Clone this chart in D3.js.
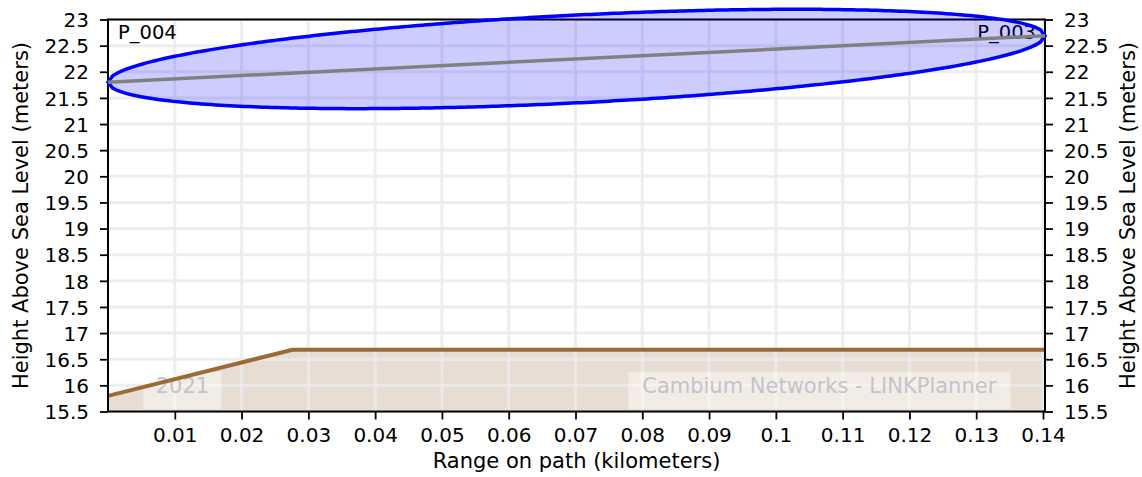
<!DOCTYPE html>
<html><head><meta charset="utf-8">
<script src="https://cdn.jsdelivr.net/npm/d3@7"></script>
<style>
html,body{margin:0;padding:0;background:#fff;}
svg{display:block;font-family:"DejaVu Sans",sans-serif;}
</style></head>
<body><svg id="c" width="1142" height="477"></svg>
<script>
// ---- data ----
const xTicks = [0.01,0.02,0.03,0.04,0.05,0.06,0.07,0.08,0.09,0.1,0.11,0.12,0.13,0.14];
const xTickLabels = ["0.01","0.02","0.03","0.04","0.05","0.06","0.07","0.08","0.09","0.1","0.11","0.12","0.13","0.14"];
const yTicks = [15.5,16,16.5,17,17.5,18,18.5,19,19.5,20,20.5,21,21.5,22,22.5,23];
const yTickLabels = ["15.5","16","16.5","17","17.5","18","18.5","19","19.5","20","20.5","21","21.5","22","22.5","23"];
const terrainRange = [0, 0.0276, 0.1403];
const terrainHeight = [15.8, 16.68, 16.68];
const pathRange = [0, 0.1403];
const pathHeight = [21.8, 22.69];
const fresnelMaxRadius = 0.84; // meters, at mid path
const siteNames = ["P_004", "P_003"];
const watermarks = ["2021", "Cambium Networks - LINKPlanner"];

// ---- layout ----
const svg = d3.select("#c");
const m = {l:108, r:1045, t:19.5, b:411.5};
const x = d3.scaleLinear().domain([0, 0.1403]).range([m.l, m.r]);
const y = d3.scaleLinear().domain([15.5, 23]).range([m.b, m.t]);

// terrain fill
const terr = terrainRange.map((d,i)=>({x:d, y:terrainHeight[i]}));
svg.append("path")
  .attr("d", d3.area().x(d=>x(d.x)).y0(y(15.5)).y1(d=>y(d.y))(terr))
  .attr("fill", "#e8ddd3");

// grid
const g = svg.append("g");
g.selectAll("line.vx").data(xTicks).join("line")
  .attr("x1", d=>x(d)).attr("x2", d=>x(d)).attr("y1", m.t).attr("y2", m.b)
  .attr("stroke", "#ebebeb").attr("stroke-opacity", 0.85).attr("stroke-width", 3);
g.selectAll("line.hy").data(yTicks).join("line")
  .attr("y1", d=>y(d)).attr("y2", d=>y(d)).attr("x1", m.l).attr("x2", m.r)
  .attr("stroke", "#ebebeb").attr("stroke-opacity", 0.85).attr("stroke-width", 3);

// watermarks
const wm = [
  {t: watermarks[0], x0: 0.0053, x1: 0.0170},
  {t: watermarks[1], x0: 0.0779, x1: 0.1351}
];
wm.forEach(w=>{
  svg.append("rect").attr("x", x(w.x0)).attr("y", 372)
    .attr("width", x(w.x1)-x(w.x0)).attr("height", 37)
    .attr("fill", "#ffffff").attr("fill-opacity", 0.45);
  svg.append("text").attr("x", (x(w.x0)+x(w.x1))/2).attr("y", 393)
    .attr("text-anchor","middle")
    .attr("font-size", 21).attr("fill", "#c4c4c4").text(w.t);
});

// terrain line
svg.append("path")
  .attr("d", d3.line().x(d=>x(d.x)).y(d=>y(d.y))(terr))
  .attr("fill","none").attr("stroke","#9c6a36").attr("stroke-width",4);

// site labels
svg.append("text").attr("x", m.l+10).attr("y", 39)
  .attr("font-size",19.5).attr("fill","#000").text(siteNames[0]);
svg.append("text").attr("x", m.r-9).attr("y", 39)
  .attr("text-anchor","end").attr("font-size",19.5).attr("fill","#000").text(siteNames[1]);

// frame
svg.append("rect").attr("x", m.l).attr("y", m.t).attr("width", m.r-m.l).attr("height", m.b-m.t)
  .attr("fill","none").attr("stroke","#000").attr("stroke-width",2);

// fresnel zone
const N = 200;
const upper = [], lower = [];
for (let i=0;i<=N;i++){
  const t = i/N;
  const xv = pathRange[0] + t*(pathRange[1]-pathRange[0]);
  const yc = pathHeight[0] + t*(pathHeight[1]-pathHeight[0]);
  const r = 2*fresnelMaxRadius*Math.sqrt(t*(1-t));
  upper.push([xv, yc + r]);
  lower.push([xv, yc - r]);
}
const ell = upper.concat(lower.reverse());
svg.append("path")
  .attr("d", d3.line().x(d=>x(d[0])).y(d=>y(d[1])).curve(d3.curveLinearClosed)(ell))
  .attr("fill","rgba(0,0,255,0.2)").attr("stroke","#0000ff").attr("stroke-width",3.5);

// path line
svg.append("path")
  .attr("d", d3.line().x((d,i)=>x(pathRange[i])).y(d=>y(d))(pathHeight))
  .attr("stroke","#808080").attr("stroke-width",3.5).attr("fill","none");

// axes
const fs = 20;
const ax = svg.append("g").attr("transform",`translate(0,${m.b})`)
  .call(d3.axisBottom(x).tickValues(xTicks).tickFormat((d,i)=>xTickLabels[i]).tickSize(8).tickPadding(8));
const ayl = svg.append("g").attr("transform",`translate(${m.l},0)`)
  .call(d3.axisLeft(y).tickValues(yTicks).tickFormat((d,i)=>yTickLabels[i]).tickSize(8).tickPadding(11));
const ayr = svg.append("g").attr("transform",`translate(${m.r},0)`)
  .call(d3.axisRight(y).tickValues(yTicks).tickFormat((d,i)=>yTickLabels[i]).tickSize(8).tickPadding(11));
[ax,ayl,ayr].forEach(a=>{
  a.select(".domain").remove();
  a.selectAll("line").attr("stroke","#000").attr("stroke-width",1.8);
  a.selectAll("text").attr("font-size",fs).attr("font-family","DejaVu Sans").attr("fill","#000");
});
ayl.selectAll("text").attr("dy","0.36em");
ayr.selectAll("text").attr("dy","0.36em");

// titles
const ts = 21;
svg.append("text").attr("x", (m.l+m.r)/2).attr("y", 468).attr("text-anchor","middle")
  .attr("font-size",ts).text("Range on path (kilometers)");
svg.append("text").attr("transform",`translate(27.5,${(m.t+m.b)/2}) rotate(-90)`).attr("text-anchor","middle")
  .attr("font-size",ts).text("Height Above Sea Level (meters)");
svg.append("text").attr("transform",`translate(1134.5,${(m.t+m.b)/2}) rotate(-90)`).attr("text-anchor","middle")
  .attr("font-size",ts).text("Height Above Sea Level (meters)");
</script>
</body></html>
